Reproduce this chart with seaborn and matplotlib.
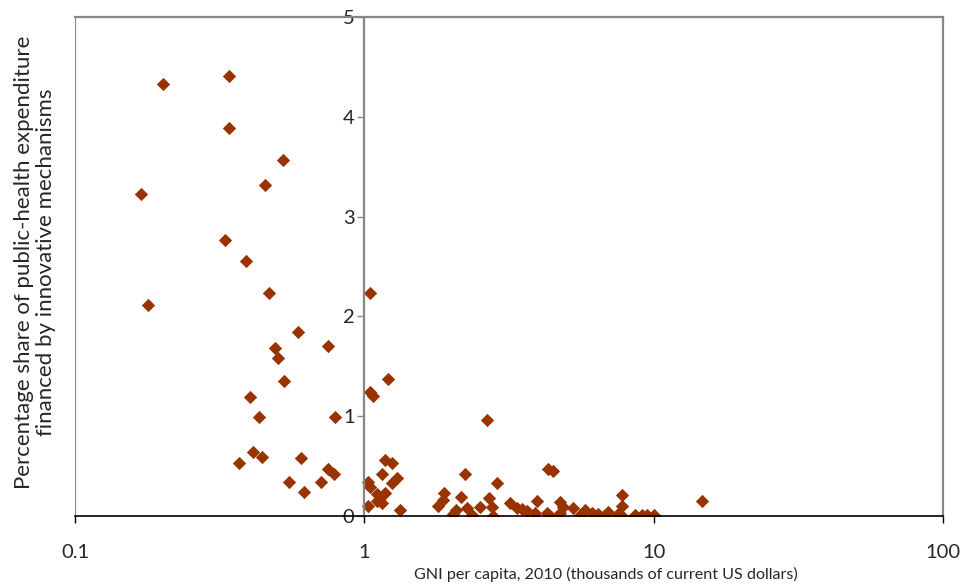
import numpy as np
import pandas as pd
import seaborn as sns
import matplotlib.pyplot as plt

# GNI per capita 2010 (thousands US$) and share of public-health expenditure (%)
gni = [0.201, 0.340, 0.340, 0.524, 0.169, 0.454, 0.330, 0.390, 0.469, 0.179,
       1.046, 0.590, 0.749, 0.491, 0.503, 0.528, 0.403, 0.433, 0.792,
       1.046, 1.072, 1.208, 0.369, 0.412, 0.443, 0.604, 0.549, 0.619, 0.708,
       0.749, 0.786, 2.655, 1.179, 1.247, 1.155, 1.297, 1.250, 1.030, 1.046,
       1.106, 1.130, 1.155, 1.180, 1.030, 1.328, 1.886, 1.870, 1.800, 2.160,
       2.228, 2.075, 2.030, 2.270, 2.360, 2.510, 2.700, 2.760, 2.780, 2.870,
       3.190, 3.370, 3.650, 4.490, 4.300, 3.950, 3.880, 4.280, 4.350, 4.750,
       4.870, 4.750, 5.270, 5.550, 5.800, 6.100, 6.790, 6.950, 7.780, 7.780,
       7.780, 8.630, 9.100, 9.500, 10.00, 14.70, 1.105, 3.500, 6.400, 7.500]
share = [4.33, 4.41, 3.89, 3.57, 3.23, 3.32, 2.77, 2.55, 2.23, 2.11,
         2.23, 1.84, 1.70, 1.68, 1.58, 1.35, 1.19, 0.99, 0.99,
         1.24, 1.20, 1.37, 0.53, 0.64, 0.59, 0.58, 0.34, 0.24, 0.34,
         0.47, 0.42, 0.96, 0.56, 0.53, 0.42, 0.38, 0.33, 0.34, 0.29,
         0.22, 0.18, 0.13, 0.23, 0.10, 0.06, 0.23, 0.16, 0.10, 0.19,
         0.42, 0.06, 0.02, 0.08, 0.01, 0.09, 0.18, 0.09, 0.00, 0.33,
         0.13, 0.08, 0.05, 0.45, 0.47, 0.15, 0.03, 0.03, 0.01, 0.14,
         0.09, 0.03, 0.08, 0.01, 0.06, 0.03, 0.01, 0.04, 0.21, 0.10,
         0.00, 0.01, 0.01, 0.01, 0.01, 0.15, 0.15, 0.07, 0.02, 0.02]

x_ticks = [0.1, 1, 10, 100]
x_tick_labels = ['0.1', '1', '10', '100']
y_ticks = [0, 1, 2, 3, 4, 5]

df = pd.DataFrame({'gni': gni, 'share': share})

sns.set_style('white')
plt.rcParams['font.family'] = ['Lato', 'DejaVu Sans']

fig = plt.figure(figsize=(9.66, 5.86), dpi=100)
ax = fig.add_axes([0.0776, 0.1195, 0.8986, 0.8515])

sns.scatterplot(data=df, x='gni', y='share', marker='D', s=46,
                color='#993300', edgecolor='#993300', linewidth=0, ax=ax)

ax.set_xscale('log')
ax.set_xlim(0.1, 100)
ax.set_ylim(0, 5)
ax.set_xticks(x_ticks)
ax.set_xticklabels(x_tick_labels)
ax.minorticks_off()
ax.set_yticks(y_ticks)

frame = '#878787'
ax.spines['left'].set_position(('data', 1))
ax.spines['left'].set_color(frame)
ax.spines['left'].set_linewidth(1.6)
for side in ['top', 'right']:
    ax.spines[side].set_color(frame)
    ax.spines[side].set_linewidth(1.6)
ax.spines['bottom'].set_color('black')
ax.spines['bottom'].set_linewidth(1.2)
# left edge of the plot box
ax.axvline(0.1, color=frame, linewidth=1.6, zorder=0)

ax.tick_params(axis='y', direction='out', length=5, width=1, color=frame,
               labelsize=14.5, pad=2, left=True)
ax.tick_params(axis='x', direction='out', length=5, width=1, color='black',
               labelsize=14.5, pad=15, bottom=True)

ax.set_xlabel('')
ax.set_ylabel('')
fig.text(0.627, 0.019, 'GNI per capita, 2010 (thousands of current US dollars)',
         ha='center', va='center', fontsize=11.6)
fig.text(0.036, 0.552,
         'Percentage share of public-health expenditure\nfinanced by innovative mechanisms',
         rotation=90, ha='center', va='center', multialignment='center',
         fontsize=16, linespacing=1.15)

fig.savefig('out.png', dpi=100)
